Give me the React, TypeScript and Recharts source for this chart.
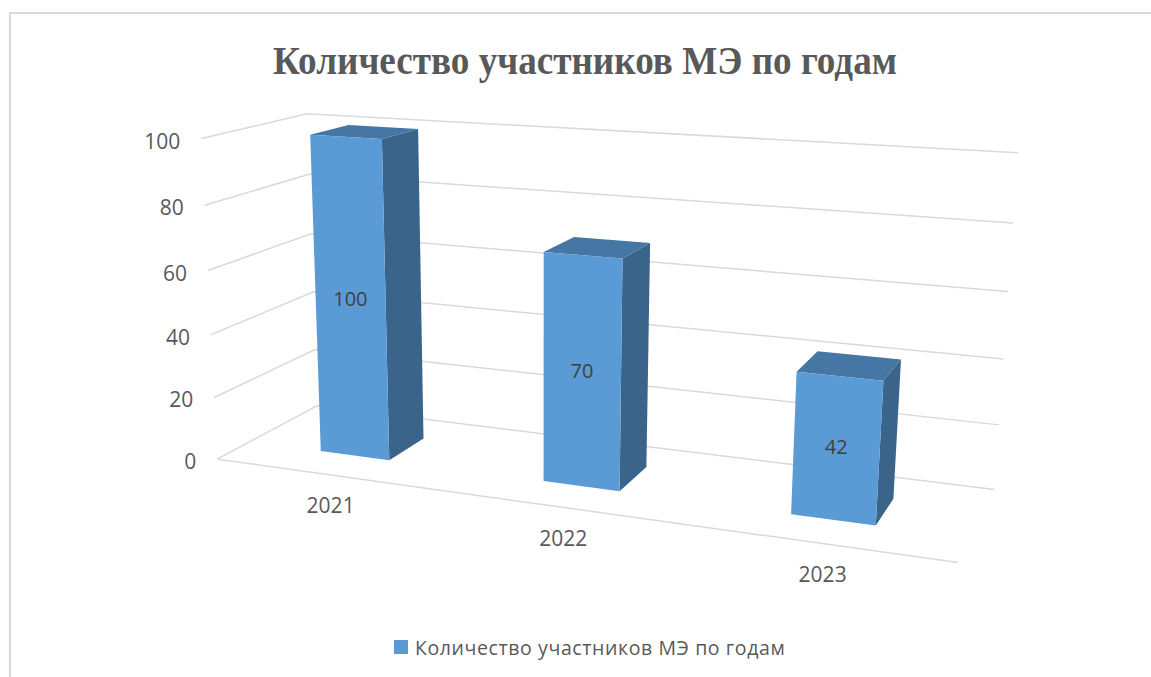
import React from 'react';
import { BarChart, Bar, XAxis, YAxis, CartesianGrid, Legend, LabelList } from 'recharts';

// data
const years = ['2021', '2022', '2023'];
const participants = [100, 70, 42];
const valueTicks = [0, 20, 40, 60, 80, 100];
const seriesName = 'Количество участников МЭ по годам';
const chartTitle = 'Количество участников МЭ по годам';

const data = years.map((year, i) => ({ year, value: participants[i] }));

const W = 1151;
const H = 677;
const AXIS_W = 1;
const AXIS_H = 1;
const M = { top: 130, right: 273, bottom: 91 - AXIS_H, left: 200 - AXIS_W };
const PL = M.left + AXIS_W;
const PT = M.top;
const PW = W - PL - M.right;
const PH = H - M.top - M.bottom - AXIS_H;
const PB = PT + PH;

const FRONT = '#5B9BD5';
const SIDE = '#3A6489';
const TOP = '#4676A4';
const GRID = '#d9d9d9';
const TEXT = '#595959';
const SANS = '"Open Sans", "DejaVu Sans", sans-serif';

// 3-D camera (Excel-like rotated column view). World box: width x height x depth
const YAW = (22.4 * Math.PI) / 180;
const PITCH = (15 * Math.PI) / 180;
const FOCAL = 1776;
const BOX = { w: 228, h: 100, d: 63 };
const EYE = { x: 293, y: 173.5, z: -448 };

// u: 0..1 along categories, v: 0..1 along values, w: 0..1 front -> back
function project(u: number, v: number, w: number): [number, number] {
  const X = u * BOX.w - EYE.x;
  const Y = v * BOX.h - EYE.y;
  const Z = w * BOX.d - EYE.z;
  const x1 = X * Math.cos(YAW) + Z * Math.sin(YAW);
  const z1 = -X * Math.sin(YAW) + Z * Math.cos(YAW);
  const yc = Y * Math.cos(PITCH) + z1 * Math.sin(PITCH);
  const zc = z1 * Math.cos(PITCH) - Y * Math.sin(PITCH);
  const cx = PL + PW / 2;
  const cy = PT + PH / 2;
  return [cx + (FOCAL * x1) / zc, cy - (FOCAL * yc) / zc];
}

const toPoints = (pts: [number, number, number][]) =>
  pts.map(([a, b, c]) => project(a, b, c).map((n) => n.toFixed(1)).join(',')).join(' ');

function barDepth(u0: number, u1: number) {
  const d = ((u1 - u0) * BOX.w) / BOX.d; // square footprint
  return [0.5 - d / 2, 0.5 + d / 2];
}

function Bar3D(props: any) {
  const { x, y, width, height } = props;
  if (x == null || !width) return null;
  const u0 = (x - PL) / PW;
  const u1 = (x + width - PL) / PW;
  const vTop = (PB - y) / PH;
  const vBot = (PB - (y + height)) / PH;
  const [w0, w1] = barDepth(u0, u1);
  return (
    <g>
      <polygon points={toPoints([[u1, vBot, w0], [u1, vBot, w1], [u1, vTop, w1], [u1, vTop, w0]])} fill={SIDE} />
      <polygon points={toPoints([[u0, vTop, w0], [u1, vTop, w0], [u1, vTop, w1], [u0, vTop, w1]])} fill={TOP} />
      <polygon points={toPoints([[u0, vBot, w0], [u1, vBot, w0], [u1, vTop, w0], [u0, vTop, w0]])} fill={FRONT} />
    </g>
  );
}

function FrontLabel(props: any) {
  const vb = props.viewBox && props.viewBox.width != null ? props.viewBox : props;
  const { x, y, width, height } = vb;
  if (x == null) return null;
  const u0 = (x - PL) / PW;
  const u1 = (x + width - PL) / PW;
  const [w0] = barDepth(u0, u1);
  const top = Math.min(y, y + height);
  const v = (PB - (top + Math.abs(height) / 2)) / PH;
  const [sx, sy] = project((u0 + u1) / 2, v, w0);
  return (
    <text x={sx} y={sy - 2} textAnchor="middle" dominantBaseline="central" fontFamily={SANS} fontSize={20} fill="#404040">
      {props.value}
    </text>
  );
}

function gridLine(props: any) {
  const v = (PB - props.y1) / PH;
  const a = project(0, v, 0);
  const b = project(0, v, 1);
  const c = project(1, v, 1);
  const floor = Math.abs(v) < 1e-3;
  const f = project(1, v, 0);
  return (
    <g key={props.key ?? `grid-${props.index}`}>
      <polyline points={[a, b, c].map((p) => p.join(',')).join(' ')} fill="none" stroke={GRID} strokeWidth={1.5} />
      {floor && <line x1={a[0]} y1={a[1]} x2={f[0]} y2={f[1]} stroke={GRID} strokeWidth={1.5} />}
    </g>
  );
}

function ValueTick(props: any) {
  const { y, payload } = props;
  const v = (PB - y) / PH;
  const [sx, sy] = project(0, v, 0);
  return (
    <text x={sx - 21} y={sy + 2} textAnchor="end" dominantBaseline="central" fontFamily={SANS} fontSize={21} fill={TEXT}>
      {payload.value}
    </text>
  );
}

function YearTick(props: any) {
  const { x, payload } = props;
  const u = (x - PL) / PW;
  const [sx, sy] = project(u, 0, 0);
  return (
    <text x={sx + 6} y={sy + 31} textAnchor="middle" dominantBaseline="central" fontFamily={SANS} fontSize={21} fill={TEXT}>
      {payload.value}
    </text>
  );
}

function LegendContent(props: any) {
  const item = props.payload && props.payload[0];
  return (
    <div style={{ display: 'flex', alignItems: 'center', height: 22, fontFamily: SANS, fontSize: 19.5, letterSpacing: 0.6, color: TEXT, whiteSpace: 'nowrap' }}>
      <span style={{ display: 'inline-block', width: 14, height: 14, background: (item && item.color) || FRONT, marginRight: 7 }} />
      <span>{(item && item.value) || seriesName}</span>
    </div>
  );
}

export default function App() {
  return (
    <div style={{ position: 'absolute', left: 0, top: 0, width: W, height: H, overflow: 'hidden', background: '#fff' }}>
      <div style={{ position: 'absolute', left: 9, top: 12, width: 1200, height: 700, border: `2px solid ${GRID}` }} />
      <svg width={W} height={100} style={{ position: 'absolute', left: 0, top: 0 }}>
        <text
          x={585}
          y={74}
          textAnchor="middle"
          fontFamily='"Liberation Serif", "Times New Roman", serif'
          fontWeight="bold"
          fontSize={39}
          fill={TEXT}
          textLength={624}
          lengthAdjust="spacingAndGlyphs"
        >
          {chartTitle}
        </text>
      </svg>
      <div style={{ position: 'absolute', left: 0, top: 0 }}>
        <BarChart width={W} height={H} data={data} margin={M} barCategoryGap="34%">
          <CartesianGrid vertical={false} horizontal={gridLine} />
          <XAxis dataKey="year" height={AXIS_H} axisLine={false} tickLine={false} interval={0} tick={<YearTick />} />
          <YAxis width={AXIS_W} domain={[0, 100]} ticks={valueTicks} axisLine={false} tickLine={false} interval={0} tick={<ValueTick />} />
          <Legend
            layout="horizontal"
            verticalAlign="middle"
            align="center"
            content={<LegendContent />}
            wrapperStyle={{ top: 636, left: 394, width: 500 }}
          />
          <Bar dataKey="value" name={seriesName} fill={FRONT} shape={<Bar3D />} isAnimationActive={false}>
            <LabelList dataKey="value" content={<FrontLabel />} />
          </Bar>
        </BarChart>
      </div>
    </div>
  );
}
